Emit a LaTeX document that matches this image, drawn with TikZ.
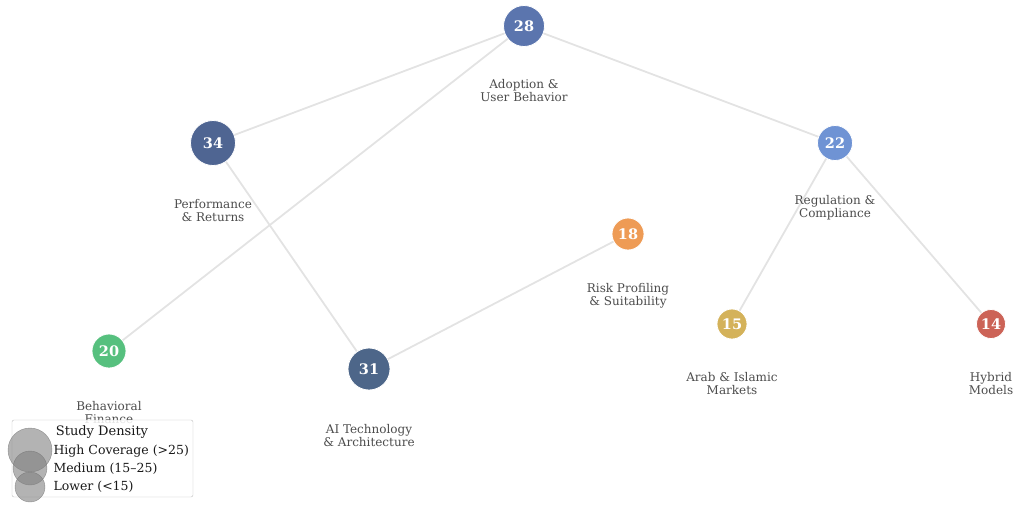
\documentclass[tikz,border=0pt]{standalone}
\usepackage{fontspec}
\setmainfont{DejaVu Serif}
\usetikzlibrary{backgrounds}
\begin{document}
\begin{tikzpicture}[x=1pt,y=-1pt,
  edge/.style={draw=black!11,line width=1.8pt},
  bub/.style={circle,draw=white,line width=0.8pt,inner sep=0pt,text=white,font=\bfseries\fontsize{14.5}{16}\selectfont},
  lab/.style={align=center,text=black!70,font=\fontsize{12}{13}\selectfont,anchor=north},
  leg/.style={circle,fill=black!50,fill opacity=0.6,draw=black!55,draw opacity=0.7,inner sep=0pt},
  legtxt/.style={anchor=west,font=\fontsize{12.5}{14}\selectfont,text=black!90}]
\useasboundingbox (0,0) rectangle (1014,504);
\definecolor{cA}{HTML}{5B75AE}
\definecolor{cB}{HTML}{4F6592}
\definecolor{cC}{HTML}{6F93D4}
\definecolor{cD}{HTML}{EE9B55}
\definecolor{cE}{HTML}{D4B25A}
\definecolor{cF}{HTML}{CC6357}
\definecolor{cG}{HTML}{56C07E}
\definecolor{cH}{HTML}{4D6689}
\node[bub,fill=cA,minimum size=41pt] (n28) at (524,26) {28};
\node[bub,fill=cB,minimum size=45pt] (n34) at (213,143) {34};
\node[bub,fill=cC,minimum size=35pt] (n22) at (835,143) {22};
\node[bub,fill=cD,minimum size=32pt] (n18) at (628,234) {18};
\node[bub,fill=cE,minimum size=30pt] (n15) at (732,324) {15};
\node[bub,fill=cF,minimum size=29pt] (n14) at (991,324) {14};
\node[bub,fill=cG,minimum size=34pt] (n20) at (109,351) {20};
\node[bub,fill=cH,minimum size=42pt] (n31) at (369,369) {31};
\begin{pgfonlayer}{background}
\draw[edge] (n28.center) -- (n34.center);
\draw[edge] (n28.center) -- (n20.center);
\draw[edge] (n28.center) -- (n22.center);
\draw[edge] (n34.center) -- (n31.center);
\draw[edge] (n31.center) -- (n18.center);
\draw[edge] (n22.center) -- (n15.center);
\draw[edge] (n22.center) -- (n14.center);
\end{pgfonlayer}
\node[lab] (l28) at (524,76) {Adoption \&\\User Behavior};
\node[lab] (l34) at (213,196) {Performance\\\& Returns};
\node[lab] (l22) at (835,192) {Regulation \&\\Compliance};
\node[lab] (l18) at (628,280) {Risk Profiling\\\& Suitability};
\node[lab] (l15) at (732,369) {Arab \& Islamic\\Markets};
\node[lab] (l14) at (991,369) {Hybrid\\Models};
\node[lab] (l20) at (109,398) {Behavioral\\Finance};
\node[lab] (l31) at (369,421) {AI Technology\\\& Architecture};
\node[draw=black!25,fill=white,fill opacity=0.85,rounded corners=2pt,minimum width=181pt,minimum height=77pt,inner sep=0pt] (legbox) at (102.5,458.5) {};
\node[font=\fontsize{13}{15}\selectfont,text=black!90] (legt) at (102,432) {Study Density};
\node[leg,minimum size=44pt] (m1) at (30,450) {};
\node[leg,minimum size=34pt] (m2) at (30,468) {};
\node[leg,minimum size=30pt] (m3) at (30,487) {};
\node[legtxt] (t1) at (50,451) {High Coverage (>25)};
\node[legtxt] (t2) at (50,469) {Medium (15–25)};
\node[legtxt] (t3) at (50,487) {Lower (<15)};
\end{tikzpicture}
\end{document}
